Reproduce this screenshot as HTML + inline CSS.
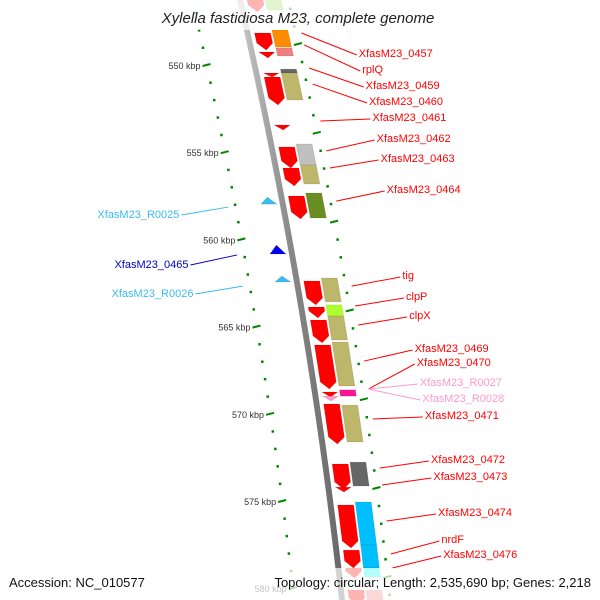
<!DOCTYPE html>
<html><head><meta charset="utf-8"><style>
body{margin:0;background:#fff}svg{display:block}
text{font-family:"Liberation Sans",sans-serif}
</style></head><body>
<svg id="c" width="600" height="600" viewBox="0 0 600 600">
<defs><linearGradient id="bb" x1="0" x2="1"><stop offset="0" stop-color="#ccc"/><stop offset="0.5" stop-color="#888"/><stop offset="1" stop-color="#666"/></linearGradient></defs>
<g id="ticks"></g><g id="bbg"></g><g id="feats"></g><g id="labs"></g>
<rect x="0" y="0" width="600" height="30" fill="#fff" opacity="0.7"/>
<rect x="0" y="568" width="600" height="32" fill="#fff" opacity="0.7"/>
<text x="298" y="23" font-size="15" font-style="italic" text-anchor="middle" fill="#222">Xylella fastidiosa M23, complete genome</text>
<text x="9" y="587" font-size="13" fill="#111">Accession: NC_010577</text>
<text x="591" y="587" font-size="13" fill="#111" text-anchor="end">Topology: circular; Length: 2,535,690 bp; Genes: 2,218</text>
</svg>
<script>
const tickKbp=[550,555,560,565,570,575,580];
const tickLabels=["550 kbp","555 kbp","560 kbp","565 kbp","570 kbp","575 kbp","580 kbp"];
const cdsStart=[546.59,548.75,549.83,551.02,551.25,553.98,555.23,556.42,558.01,562.84,564.32,565.06,566.48,569.15,569.38,569.83,573.24,574.55,575.57,578.13,579.15,580.4];
const cdsEnd=[547.56,549.72,550.17,551.25,552.84,554.26,556.42,557.44,559.32,564.20,564.94,566.36,568.98,569.43,569.66,572.10,574.66,574.83,578.01,579.15,579.72,581.25];
const cdsColor=["#f00","#f00","#f00","#f00","#f00","#f00","#f00","#f00","#f00","#f00","#f00","#f00","#f00","#f00","#ff99cc","#f00","#f00","#f00","#f00","#f00","#f00","#f00"];
const cogStart=[546.88,548.58,549.60,550.80,551.02,555.06,556.25,557.84,562.67,564.20,564.83,566.31,569.03,569.89,573.13,575.40,577.84,579.15,580.40];
const cogEnd=[547.44,549.55,550.06,551.02,552.56,556.25,557.33,559.26,564.03,564.83,566.19,568.81,569.38,571.99,574.49,577.84,579.15,579.66,581.25];
const cogColor=["#9be060","#ff8c00","#f08080","#666","#bdb76b","#c0c0c0","#bdb76b","#6b8e23","#bdb76b","#adff2f","#bdb76b","#bdb76b","#ff1493","#bdb76b","#666","#00bfff","#00bfff","#00ffff","#f08080"];
const revStart=[558.07,560.80,562.56];
const revEnd=[558.47,561.31,562.90];
const revColor=["#3bbcf0","#0000ee","#3bbcf0"];
const labelText=["XfasM23_0457","rplQ","XfasM23_0459","XfasM23_0460","XfasM23_0461","XfasM23_0462","XfasM23_0463","XfasM23_0464","tig","clpP","clpX","XfasM23_0469","XfasM23_0470","XfasM23_R0027","XfasM23_R0028","XfasM23_0471","XfasM23_0472","XfasM23_0473","XfasM23_0474","nrdF","XfasM23_0476"];
const labelFeatKbp=[548.75,549.43,550.74,551.65,553.75,555.45,556.42,558.30,563.13,564.26,565.34,567.39,568.98,568.98,568.98,570.68,573.47,574.43,576.48,578.35,579.15];
const labelYpx=[57,73,89,105,121,142,162,193,279,300,319,352,366,386,402,419,463,480,516,543,558];
const labelColor=["red","red","red","red","red","red","red","red","red","red","red","red","red","#ff99cc","#ff99cc","red","red","red","red","red","red"];
const leftLabelText=["XfasM23_R0025","XfasM23_0465","XfasM23_R0026"];
const leftLabelKbp=[558.64,561.36,563.13];
const leftLabelYpx=[218,268,297];
const leftLabelColor=["#3bbcf0","#0000cc","#3bbcf0"];

const NS="http://www.w3.org/2000/svg";
function lx(y){return 240+0.23*y-0.0001*y*y;}
function yR(k){return 44+(k-550)*17.76;}
function yL(k){return 65+(k-550)*17.44;}
function yM(k){return 55+(k-550)*17.6;}
function mk(p,tag,a){const e=document.createElementNS(NS,tag);for(const k in a)e.setAttribute(k,a[k]);p.appendChild(e);return e;}
const T=document.getElementById('ticks'),B=document.getElementById('bbg'),F=document.getElementById('feats'),L=document.getElementById('labs');
let pts=[];for(let y=-5;y<=605;y+=5)pts.push((lx(y)-3)+","+y);for(let y=605;y>=-5;y-=5)pts.push((lx(y)+3)+","+y);
const bb=mk(B,'polygon',{points:pts.join(' '),fill:'url(#bb)'});


for(let k=547;k<=581;k++){
 const major=(k%5===0);
 [[yL(k),-48],[yR(k),48]].forEach(([y,o])=>{
  const x=lx(y)+o;
  const r=major?mk(T,'line',{x1:x-4,y1:y+1,x2:x+4,y2:y-1,stroke:'#080',"stroke-width":2}):mk(T,'rect',{x:x-1,y:y-1,width:2.5,height:2.5,fill:'#080'});
  
  
 });
}
tickKbp.forEach((k,i)=>{const y=yL(k);const t=mk(T,'text',{x:lx(y)-54,y:y+4,"font-size":9,"text-anchor":"end",fill:'#333'});t.textContent=tickLabels[i];
 
 });
function band(y1,y2,o1,o2,arrow){
 const m=(o1+o2)/2;
 if(arrow&&y2-y1<8){return [[lx(y1)+o1,y1],[lx(y1)+o2,y1],[lx(y2)+m,y2]];}
 if(arrow){const yb=y2-7;return [[lx(y1)+o1,y1],[lx(y1)+o2,y1],[lx(yb)+o2,yb],[lx(y2)+m,y2],[lx(yb)+o1,yb]];}
 return [[lx(y1)+o1,y1],[lx(y1)+o2,y1],[lx(y2)+o2,y2],[lx(y2)+o1,y2]];
}
function poly(p,pts,fill,name){const e=mk(p,'polygon',{points:pts.map(q=>q.join(',')).join(' '),fill:fill,stroke:'rgba(0,0,0,0.08)'});
 
 return e;}
cdsStart.forEach((s,i)=>{poly(F,band(yM(s),yM(cdsEnd[i]),7,23,true),cdsColor[i],'cds-feature');});
cogStart.forEach((s,i)=>{poly(F,band(yM(s),yM(cogEnd[i]),25,41,false),cogColor[i],'cog-feature');});
revStart.forEach((s,i)=>{const y1=yM(s),y2=yM(revEnd[i]);poly(F,[[lx(y2)-22,y2],[lx(y1)-14,y1],[lx(y2)-6,y2]],revColor[i],'trna-feature');});
labelText.forEach((t,i)=>{
 const fy=yM(labelFeatKbp[i]);const fx=lx(fy)+54;const ty=labelYpx[i];const tx=lx(ty)+106;
 const ln=mk(L,'line',{x1:fx,y1:fy,x2:tx-2,y2:ty-2,stroke:labelColor[i],"stroke-width":1});
 
 
 const e=mk(L,'text',{x:tx,y:ty,"font-size":11,fill:labelColor[i]});e.textContent=t;
 
 
});
leftLabelText.forEach((t,i)=>{
 const fy=yM(leftLabelKbp[i]);const fx=lx(fy)-55;const ty=leftLabelYpx[i];const tx=lx(ty)-106;
 const ln=mk(L,'line',{x1:fx,y1:fy,x2:tx+2,y2:ty-3,stroke:leftLabelColor[i],"stroke-width":1});
 
 
 const e=mk(L,'text',{x:tx,y:ty,"font-size":11,fill:leftLabelColor[i],"text-anchor":"end"});e.textContent=t;
 
 
});
</script>
</body></html>
